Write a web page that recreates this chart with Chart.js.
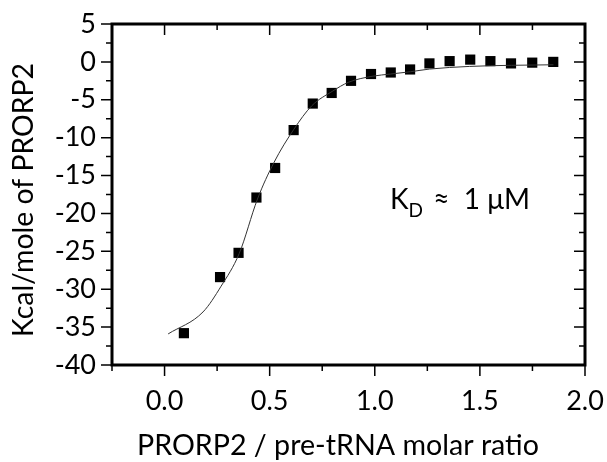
<!DOCTYPE html>
<html>
<head>
<meta charset="utf-8">
<script src="https://cdn.jsdelivr.net/npm/chart.js@4.4.0/dist/chart.umd.min.js"></script>
<style>
  html, body { margin: 0; padding: 0; background: #fff; }
  #wrap { width: 607px; height: 462px; }
</style>
</head>
<body>
<div id="wrap"><canvas id="grafico"></canvas></div>
<script>
// pontos medidos (razão molar, kcal/mol)
const pontosX = [0.092, 0.264, 0.352, 0.437, 0.526, 0.614, 0.705, 0.795, 0.887, 0.982, 1.076, 1.168, 1.26, 1.356, 1.454, 1.55, 1.648, 1.749, 1.849];
const pontosY = [-35.8, -28.4, -25.2, -17.9, -14.0, -9.0, -5.5, -4.1, -2.5, -1.6, -1.4, -1.0, -0.2, 0.1, 0.3, 0.1, -0.2, -0.1, 0.0];

// curva ajustada
const curvaX = [0.017, 0.183, 0.269, 0.355, 0.442, 0.52, 0.615, 0.70, 0.80, 0.874, 0.987, 1.076, 1.17, 1.26, 1.45, 1.65, 1.85];
const curvaY = [-35.9, -33.0, -29.6, -25.3, -18.1, -13.3, -8.9, -5.8, -3.85, -2.7, -1.9, -1.6, -1.3, -0.95, -0.6, -0.45, -0.38];

const ticksX = [0.0, 0.5, 1.0, 1.5, 2.0];
const ticksY = [5, 0, -5, -10, -15, -20, -25, -30, -35, -40];

const tituloX = "PRORP2 / pre-tRNA molar ratio";
const tituloY = "Kcal/mole of PRORP2";

const fonte = "Lato";

// acha o tamanho de fonte que dá a largura desejada
function tamanhoPara(c, texto, largura) {
  c.font = "20px " + fonte;
  return 20 * largura / c.measureText(texto).width;
}

// moldura, marcas de escala e textos
const molduraPlugin = {
  id: "moldura",
  afterDraw(chart) {
    const c = chart.ctx;
    const a = chart.chartArea;
    const sx = chart.scales.x;
    const sy = chart.scales.y;
    c.save();
    c.strokeStyle = "#000";

    c.lineWidth = 1.5;
    c.beginPath();
    for (let v = -0.25; v <= 2.001; v += 0.25) {
      const px = sx.getPixelForValue(v);
      const major = Math.abs(v * 2 - Math.round(v * 2)) < 1e-6;
      const len = major ? 11 : 6;
      c.moveTo(px, a.bottom); c.lineTo(px, a.bottom + len);
      c.moveTo(px, a.top); c.lineTo(px, a.top + len);
    }
    for (let v = -40; v <= 5.001; v += 2.5) {
      const py = sy.getPixelForValue(v);
      const major = Math.abs(v / 5 - Math.round(v / 5)) < 1e-6;
      const len = major ? 11 : 6;
      c.moveTo(a.left, py); c.lineTo(a.left - len, py);
      c.moveTo(a.right, py); c.lineTo(a.right - len, py);
    }
    c.stroke();

    c.lineWidth = 3;
    c.strokeRect(a.left, a.top, a.right - a.left, a.bottom - a.top);

    c.fillStyle = "#000";
    c.textBaseline = "alphabetic";
    // título do eixo x
    c.font = tamanhoPara(c, tituloX, 402) + "px " + fonte;
    c.textAlign = "center";
    c.fillText(tituloX, 338, 455);
    // título do eixo y
    c.font = tamanhoPara(c, tituloY, 274) + "px " + fonte;
    c.save();
    c.translate(33, 200);
    c.rotate(-Math.PI / 2);
    c.fillText(tituloY, 0, 0);
    c.restore();

    // anotação K_D
    c.textAlign = "left";
    let x = 390;
    c.font = "28px " + fonte;
    c.fillText("K", x, 209);
    x += c.measureText("K").width;
    c.font = "19px " + fonte;
    c.fillText("D", x, 217);
    x += c.measureText("D").width + 3;
    c.font = "28px " + fonte;
    c.fillText(" \u2248  1 \u03bcM", x, 209);
    c.restore();
  }
};

const ctx = document.getElementById("grafico").getContext("2d");

new Chart(ctx, {
  type: "scatter",
  data: {
    datasets: [
      {
        label: "ajuste",
        data: curvaX.map((x, i) => ({ x, y: curvaY[i] })),
        showLine: true,
        borderColor: "#333",
        borderWidth: 1,
        pointRadius: 0,
        cubicInterpolationMode: "monotone",
      },
      {
        label: "dados",
        data: pontosX.map((x, i) => ({ x, y: pontosY[i] })),
        pointStyle: "rect",
        pointRadius: 7.2,
        pointBackgroundColor: "#000",
        pointBorderWidth: 0,
      },
    ],
  },
  options: {
    responsive: true,
    maintainAspectRatio: false,
    animation: false,
    layout: { padding: { top: 24, right: 22, left: 0, bottom: 0 } },
    plugins: {
      legend: { display: false },
      tooltip: { enabled: false },
    },
    scales: {
      x: {
        type: "linear",
        min: -0.25,
        max: 2.0,
        grid: { display: false, drawTicks: false },
        border: { display: false },
        afterBuildTicks: (s) => { s.ticks = ticksX.map((v) => ({ value: v })); },
        afterFit: (s) => { s.height = 97; s.paddingLeft = 0; s.paddingRight = 0; },
        ticks: {
          color: "#000",
          padding: 20,
          font: { family: fonte, size: 27 },
          callback: (v) => v.toFixed(1),
        },
      },
      y: {
        type: "linear",
        min: -40,
        max: 5,
        grid: { display: false, drawTicks: false },
        border: { display: false },
        afterBuildTicks: (s) => { s.ticks = ticksY.map((v) => ({ value: v })); },
        afterFit: (s) => { s.width = 112; s.paddingTop = 0; s.paddingBottom = 0; },
        ticks: {
          color: "#000",
          padding: 16,
          font: { family: fonte, size: 27 },
          callback: (v) => String(v),
        },
      },
    },
  },
  plugins: [molduraPlugin],
});
</script>
</body>
</html>
